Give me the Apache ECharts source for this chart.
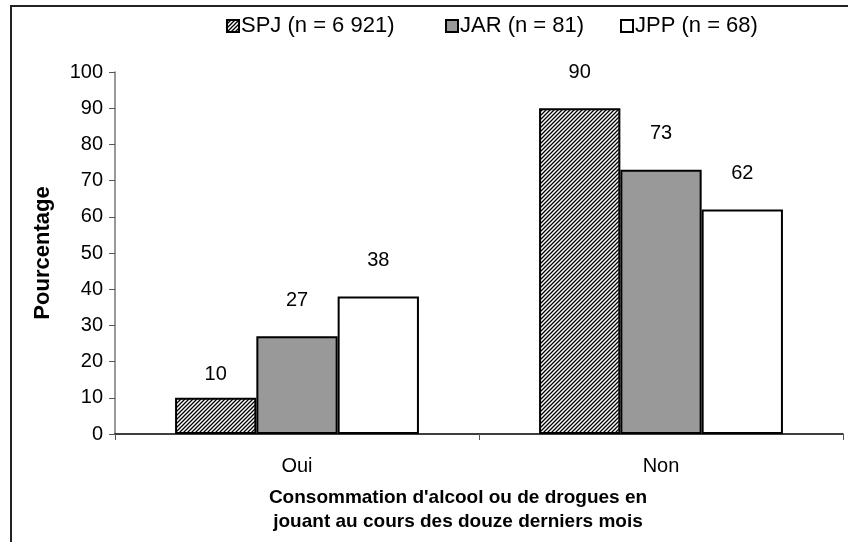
<!DOCTYPE html>
<html><head><meta charset="utf-8">
<script src="https://cdn.jsdelivr.net/npm/echarts@6/dist/echarts.min.js"></script>
<style>html,body{margin:0;padding:0;background:#fff}#c{width:848px;height:542px;position:relative}
#frame{position:absolute;left:10px;top:5px;width:900px;height:600px;border-left:2px solid #222;border-top:2px solid #222;pointer-events:none}</style>
</head><body><div id="c"></div>
<script>
const categories = ['Oui', 'Non'];
const seriesNames = ['SPJ (n = 6 921)', 'JAR (n = 81)', 'JPP (n = 68)'];
const spj = [10, 90];
const jar = [27, 73];
const jpp = [38, 62];

function hatch() {
  const s = 4;
  const cv = document.createElement('canvas');
  cv.width = s; cv.height = s;
  const ctx = cv.getContext('2d');
  ctx.fillStyle = '#fff'; ctx.fillRect(0, 0, s, s);
  ctx.strokeStyle = '#000'; ctx.lineWidth = 1.3;
  ctx.beginPath();
  ctx.moveTo(-1, s + 1); ctx.lineTo(s + 1, -1);
  ctx.moveTo(-1, 1); ctx.lineTo(1, -1);
  ctx.moveTo(s - 1, s + 1); ctx.lineTo(s + 1, s - 1);
  ctx.stroke();
  return cv;
}
const font = 'Liberation Sans, Arial, sans-serif';
const chart = echarts.init(document.getElementById('c'));
const lbl = { show: true, position: 'top', distance: 26, color: '#000', fontSize: 20, fontFamily: font };
const bw = { borderColor: '#000', borderWidth: 2 };
function items(arr) {
  return arr.map(v => v < 15 ? { value: v, label: { distance: 13 } } : v);
}
const legendBase = {
  top: 10, itemWidth: 12, itemHeight: 12, icon: 'rect',
  textStyle: { fontSize: 22, color: '#000', fontFamily: font, padding: [0, 0, 0, -3] }
};
chart.setOption({
  animation: false,
  textStyle: { fontFamily: font },
  legend: [
    Object.assign({ left: 221, data: [seriesNames[0]] }, legendBase),
    Object.assign({ left: 440, data: [seriesNames[1]] }, legendBase),
    Object.assign({ left: 615, data: [seriesNames[2]] }, legendBase)
  ],
  grid: { left: 115, right: 5, top: 72, bottom: 108 },
  xAxis: {
    type: 'category', data: categories,
    axisLine: { lineStyle: { color: '#000', width: 1.5 } },
    axisTick: { show: true, length: 6, lineStyle: { color: '#555' } },
    axisLabel: { fontSize: 20, color: '#000', margin: 22, fontFamily: font },
    name: "Consommation d'alcool ou de drogues en\njouant au cours des douze derniers mois",
    nameLocation: 'middle', nameGap: 52,
    nameTextStyle: { fontSize: 19, fontWeight: 'bold', color: '#000', lineHeight: 24, fontFamily: font, padding: [0, 42, 0, 0] }
  },
  yAxis: {
    type: 'value', min: 0, max: 100, interval: 10,
    axisLine: { show: true, lineStyle: { color: '#777', width: 1.5 } },
    axisTick: { show: true, length: 6, lineStyle: { color: '#555' } },
    splitLine: { show: false },
    axisLabel: { fontSize: 20, color: '#000', margin: 12, fontFamily: font },
    name: 'Pourcentage', nameLocation: 'middle', nameGap: 61,
    nameTextStyle: { fontSize: 22, fontWeight: 'bold', color: '#000', fontFamily: font }
  },
  series: [
    { name: seriesNames[0], type: 'bar', data: items(spj), barGap: '0%', barCategoryGap: '33%',
      itemStyle: Object.assign({ color: { image: hatch(), repeat: 'repeat' } }, bw), label: lbl },
    { name: seriesNames[1], type: 'bar', data: items(jar), barGap: '0%', barCategoryGap: '33%',
      itemStyle: Object.assign({ color: '#999999' }, bw), label: lbl },
    { name: seriesNames[2], type: 'bar', data: items(jpp), barGap: '0%', barCategoryGap: '33%',
      itemStyle: Object.assign({ color: '#ffffff' }, bw), label: lbl }
  ]
});
</script>
<script>document.getElementById('c').insertAdjacentHTML('beforeend','<div id="frame"></div>');</script>
</body></html>
